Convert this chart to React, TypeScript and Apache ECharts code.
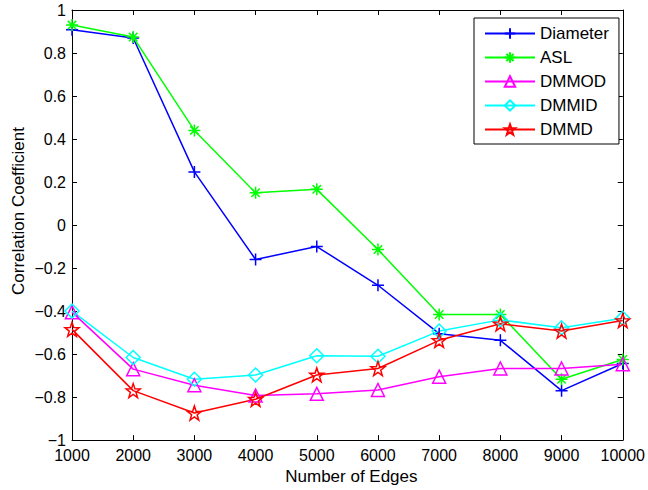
import React, { useEffect, useRef } from "react";
import * as echarts from "echarts";

const edges = [1000, 2000, 3000, 4000, 5000, 6000, 7000, 8000, 9000, 10000];
const diameter = [0.908, 0.87, 0.247, -0.16, -0.1, -0.28, -0.505, -0.536, -0.77, -0.644];
const asl = [0.93, 0.874, 0.44, 0.15, 0.166, -0.114, -0.416, -0.416, -0.717, -0.625];
const dmmod = [-0.405, -0.67, -0.745, -0.793, -0.785, -0.767, -0.705, -0.667, -0.667, -0.647];
const dmmid = [-0.4, -0.616, -0.717, -0.697, -0.608, -0.61, -0.493, -0.441, -0.478, -0.433];
const dmmd = [-0.485, -0.77, -0.874, -0.81, -0.697, -0.667, -0.536, -0.459, -0.493, -0.444];

const PLUS = "path://M0,5L10,5M5,0L5,10";
const ASTER = "path://M0,5L10,5M5,0L5,10M1.5,1.5L8.5,8.5M1.5,8.5L8.5,1.5";
const STAR = "path://M5,0L6.18,3.38L9.76,3.45L6.9,5.62L7.94,9.05L5,7L2.06,9.05L3.1,5.62L0.24,3.45L3.82,3.38Z";

const FONT = "Liberation Sans";

function mk(name: string, vals: number[], color: string, symbol: string, size: number) {
  return {
    name,
    type: "line",
    data: edges.map((x, i) => [x, vals[i]]),
    symbol,
    symbolSize: size,
    showAllSymbol: true,
    lineStyle: { color, width: 1.5 },
    itemStyle: { color: "none", borderColor: color, borderWidth: 1.5 },
    emphasis: { disabled: true },
  };
}

export default function App() {
  const ref = useRef<HTMLDivElement>(null);
  useEffect(() => {
    const chart = echarts.init(ref.current!, undefined, { renderer: "svg" });
    const axisLine = { show: true, onZero: false, lineStyle: { color: "#000", width: 1 } };
    const tick = { show: true, inside: true, length: 5, lineStyle: { color: "#000" } };
    chart.setOption({
      animation: false,
      backgroundColor: "#fff",
      grid: { left: 72, right: 25, top: 10, bottom: 46 },
      legend: {
        orient: "vertical",
        left: 474,
        top: 18,
        width: 140,
        borderColor: "#000",
        borderWidth: 1,
        padding: [7, 10, 6, 10],
        itemGap: 7,
        itemWidth: 50,
        itemHeight: 13,
        textStyle: { fontFamily: FONT, fontSize: 17, color: "#000", lineHeight: 13 },
        backgroundColor: "#fff",
      },
      graphic: [
        {
          type: "text",
          x: 18,
          y: 211,
          rotation: Math.PI / 2,
          style: {
            text: "Correlation Coefficient",
            fontFamily: FONT,
            fontSize: 17,
            fill: "#000",
            align: "center",
            verticalAlign: "middle",
          },
        },
      ],
      xAxis: [
        {
          type: "value",
          min: 1000,
          max: 10000,
          interval: 1000,
          name: "Number of Edges",
          nameLocation: "middle",
          nameGap: 26,
          nameTextStyle: { fontFamily: FONT, fontSize: 17, color: "#000", padding: [0, 0, 0, 8] },
          axisLine,
          axisTick: tick,
          splitLine: { show: false },
          axisLabel: {
            fontFamily: FONT,
            fontSize: 16,
            color: "#000",
            margin: 7,
            formatter: (v: number) => String(v),
          },
        },
        {
          type: "value",
          position: "top",
          min: 1000,
          max: 10000,
          interval: 1000,
          axisLine,
          axisTick: tick,
          splitLine: { show: false },
          axisLabel: { show: false },
        },
      ],
      yAxis: [
        {
          type: "value",
          min: -1,
          max: 1,
          interval: 0.2,
          axisLine,
          axisTick: tick,
          splitLine: { show: false },
          axisLabel: {
            fontFamily: FONT,
            fontSize: 16,
            color: "#000",
            margin: 6,
            formatter: (v: number) => {
              const s = String(Math.round(v * 10) / 10);
              return s.replace("-", "\u2212");
            },
          },
        },
        {
          type: "value",
          position: "right",
          min: -1,
          max: 1,
          interval: 0.2,
          axisLine,
          axisTick: tick,
          splitLine: { show: false },
          axisLabel: { show: false },
        },
      ],
      series: [
        mk("Diameter", diameter, "#0000ff", PLUS, 12),
        mk("ASL", asl, "#00ff00", ASTER, 12),
        mk("DMMOD", dmmod, "#ff00ff", "triangle", 13),
        mk("DMMID", dmmid, "#00ffff", "diamond", 14),
        mk("DMMD", dmmd, "#ff0000", STAR, 14),
      ],
    });
    return () => chart.dispose();
  }, []);
  return (
    <div
      ref={ref}
      style={{ position: "fixed", left: 0, top: 0, width: 648, height: 490 }}
    />
  );
}
